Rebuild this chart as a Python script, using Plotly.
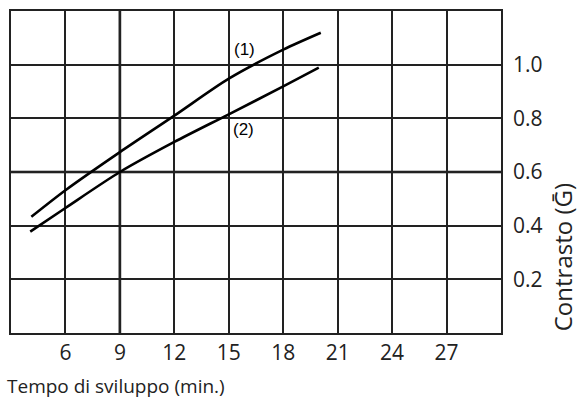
import plotly.graph_objects as go

# Data
x_curve1 = [4.12, 6.0, 9.0, 12.0, 15.0, 18.0, 20.07]
y_curve1 = [0.433, 0.532, 0.674, 0.81, 0.948, 1.056, 1.119]
x_curve2 = [4.06, 6.0, 9.0, 12.0, 15.0, 18.0, 19.96]
y_curve2 = [0.378, 0.466, 0.60, 0.712, 0.815, 0.919, 0.989]

curve_labels = ["(1)", "(2)"]
label_x = [15.84, 15.8]
label_y = [1.056, 0.759]

x_ticks = [6, 9, 12, 15, 18, 21, 24, 27]
y_ticks = [0.2, 0.4, 0.6, 0.8, 1.0]
y_tick_text = ["0.2", "0.4", "0.6", "0.8", "1.0"]

x_title = "Tempo di sviluppo (min.)"
y_title = "Contrasto (\u1E20)"

FONT = "'Open Sans', 'Noto Sans', sans-serif"
TXT = "#222"

fig = go.Figure()
for xs, ys in [(x_curve1, y_curve1), (x_curve2, y_curve2)]:
    fig.add_trace(go.Scatter(x=xs, y=ys, mode="lines",
                             line=dict(color="black", width=2.6, shape="spline", smoothing=0.8),
                             showlegend=False, hoverinfo="skip"))

for t, lx, ly in zip(curve_labels, label_x, label_y):
    fig.add_annotation(x=lx, y=ly, text=t, showarrow=False, xanchor="center", yanchor="middle",
                       font=dict(family="'Liberation Sans', Arial, sans-serif", size=17, color="black"))

# emphasised grid lines
fig.add_shape(type="line", x0=9, x1=9, y0=0, y1=1.2, xref="x", yref="y",
              line=dict(color="black", width=2.6), layer="below")
fig.add_shape(type="line", x0=3, x1=30, y0=0.6, y1=0.6, xref="x", yref="y",
              line=dict(color="black", width=2.6), layer="below")

fig.update_xaxes(range=[3, 30], tickvals=x_ticks, ticktext=[str(v) for v in x_ticks], showgrid=True,
                 gridcolor="#222", gridwidth=1.5, showline=True, linecolor="#222", linewidth=1.5, mirror=True,
                 ticks="", zeroline=False, tickfont=dict(family=FONT, size=21, color=TXT))
fig.update_yaxes(range=[0, 1.2], tickvals=y_ticks, ticktext=y_tick_text, side="right", showgrid=True,
                 gridcolor="#222", gridwidth=1.5, showline=True, linecolor="#222", linewidth=1.5, mirror=True,
                 ticks="", zeroline=False, ticklabelstandoff=6, tickfont=dict(family=FONT, size=21, color=TXT))

fig.add_annotation(x=-0.012, y=-0.166, xref="paper", yref="paper", text=x_title, showarrow=False,
                   xanchor="left", yanchor="middle", font=dict(family=FONT, size=19, color=TXT))
fig.add_annotation(x=1.125, y=0.0, xref="paper", yref="paper", text=y_title, showarrow=False, textangle=-90,
                   xanchor="center", yanchor="bottom", font=dict(family=FONT, size=24, color=TXT))

fig.update_layout(width=579, height=399, margin=dict(l=9, r=78, t=9, b=66),
                  plot_bgcolor="white", paper_bgcolor="white")
fig.write_html("out.html")
